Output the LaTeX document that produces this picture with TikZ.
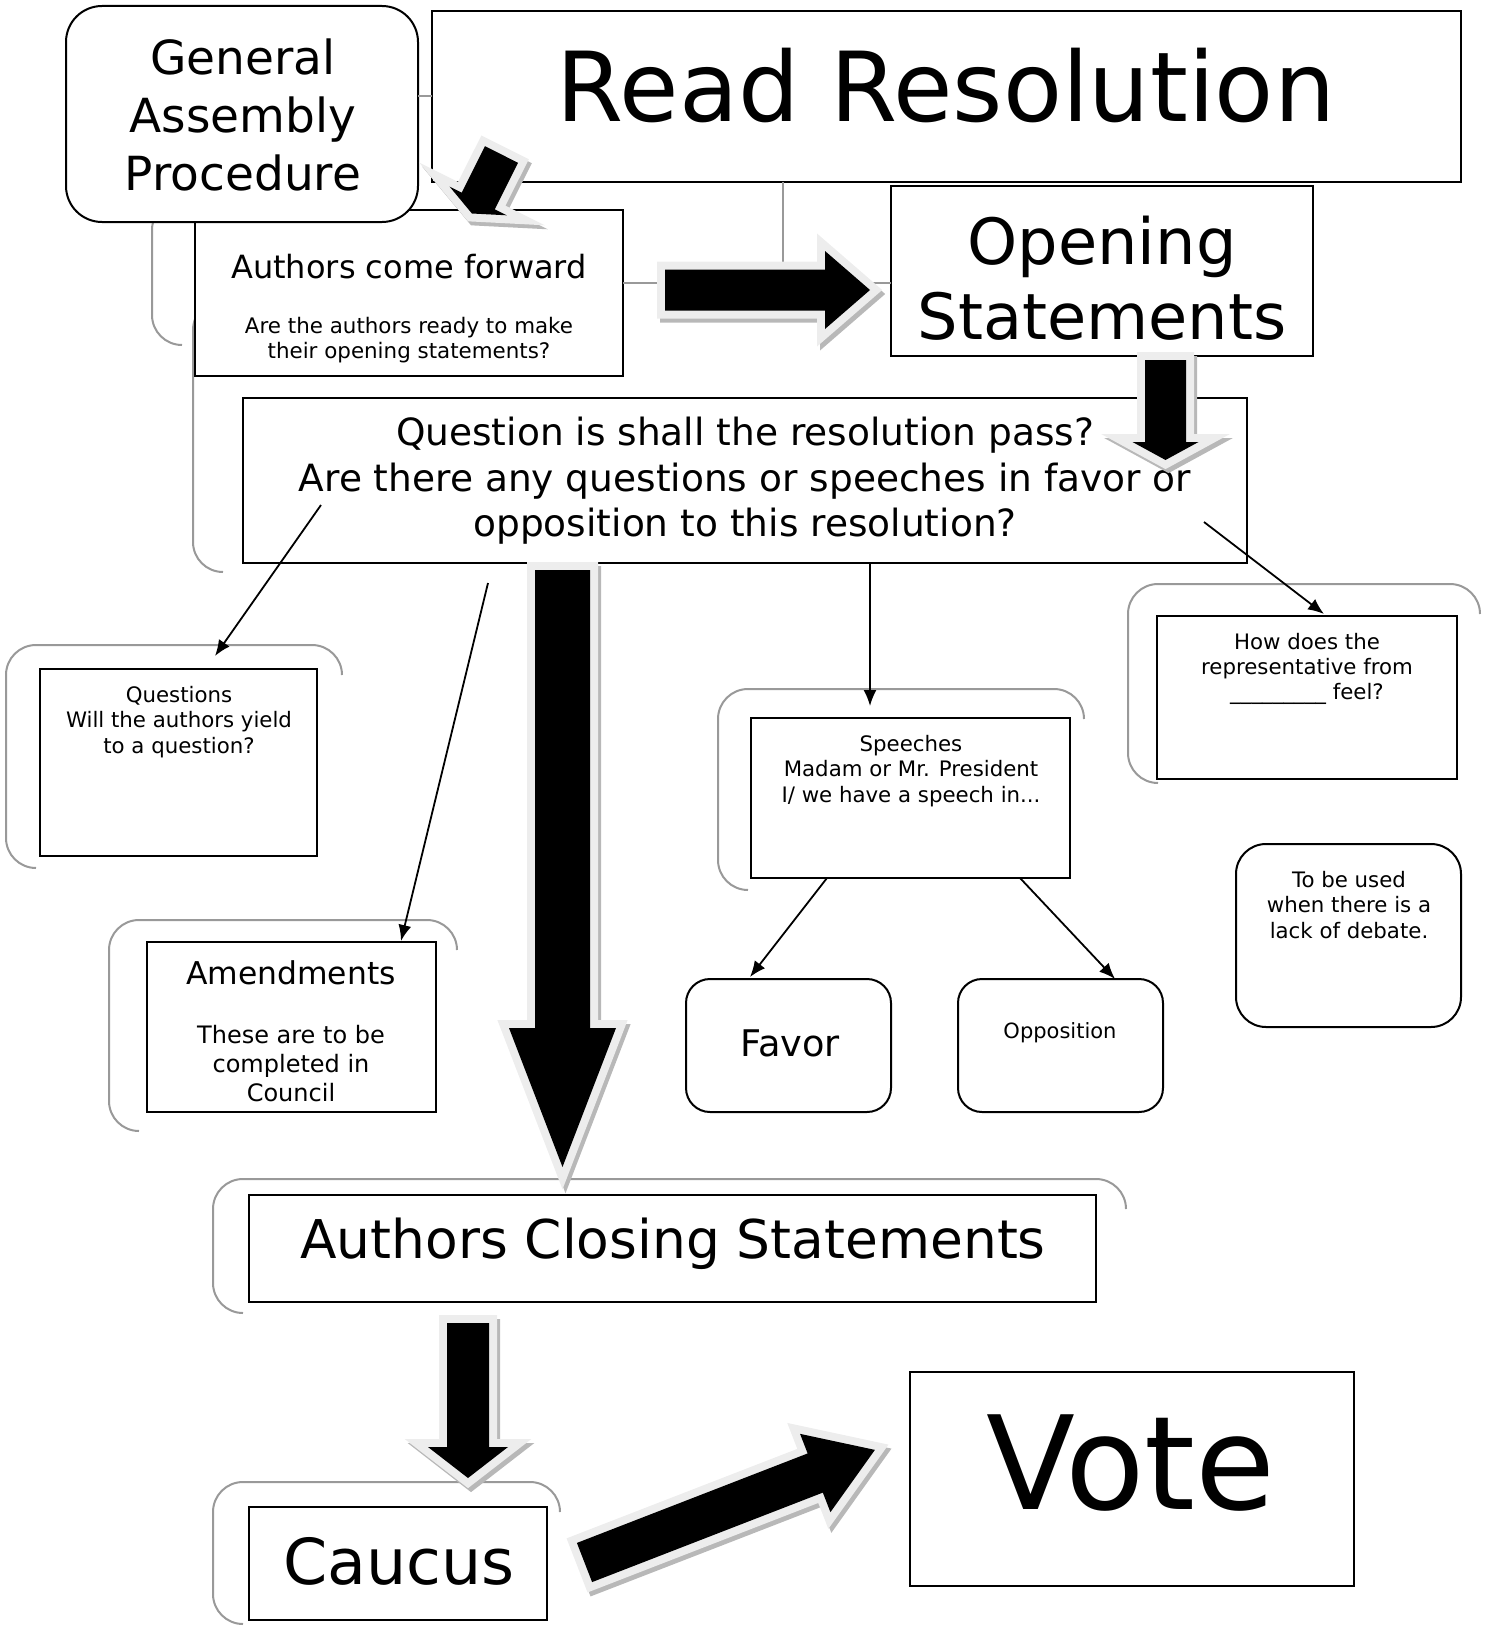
\documentclass[tikz,border=0pt]{standalone}
\usepackage{fontspec}
\setmainfont{DejaVu Sans}
\usetikzlibrary{arrows.meta}

\newcommand\fsz[2]{\fontsize{#1}{#2}\selectfont}
% #1 start, #2 angle, #3 length, #4 shaft half width, #5 head half width, #6 head length
\newcommand\blockarrow[6]{%
  \begin{scope}[shift={#1}, xshift=1.5pt, yshift=-2pt, rotate=#2]
    \filldraw[arrowshadow] (0,-#4) -- (#3-#6,-#4) -- (#3-#6,-#5) -- (#3,0)
      -- (#3-#6,#5) -- (#3-#6,#4) -- (0,#4) -- cycle;
  \end{scope}
  \begin{scope}[shift={#1}, rotate=#2]
    \filldraw[arrowrim] (0,-#4) -- (#3-#6,-#4) -- (#3-#6,-#5) -- (#3,0)
      -- (#3-#6,#5) -- (#3-#6,#4) -- (0,#4) -- cycle;
    \fill[black] (0,-#4) -- (#3-#6,-#4) -- (#3-#6,-#5) -- (#3,0)
      -- (#3-#6,#5) -- (#3-#6,#4) -- (0,#4) -- cycle;
  \end{scope}}

\begin{document}
\begin{tikzpicture}[x=0.5pt,y=-0.5pt,
  box/.style={draw=black, line width=1pt, fill=white, inner sep=0pt, outer sep=0pt},
  rbox/.style={box, rounded corners=15pt},
  txt/.style={inner sep=0pt, align=center},
  link/.style={-{Latex[length=8pt,width=6.5pt]}, line width=0.9pt},
  conn/.style={draw=black!40, line width=1pt},
  frame/.style={draw=black!40, line width=1pt, rounded corners=15pt},
  arrowrim/.style={fill=black!7, draw=black!7, line width=8pt, line join=miter},
  arrowshadow/.style={fill=black!28, draw=black!28, line width=8pt, line join=miter}]
  \useasboundingbox (0,0) rectangle (1485,1627);

  % grey frames behind the boxes
  \draw[frame] (182,200) -- (152,200) -- (152,345) -- (182,345);
  \draw[frame] (223,300) -- (193,300) -- (193,572) -- (223,572);
  \draw[frame] (36,868) -- (6,868) -- (6,645) -- (342,645) -- (342,675);
  \draw[frame] (139,1131) -- (109,1131) -- (109,920) -- (457,920) -- (457,950);
  \draw[frame] (748,890) -- (718,890) -- (718,689) -- (1084,689) -- (1084,719);
  \draw[frame] (1158,783) -- (1128,783) -- (1128,584) -- (1480,584) -- (1480,614);
  \draw[frame] (243,1313) -- (213,1313) -- (213,1179) -- (1126,1179) -- (1126,1209);
  \draw[frame] (243,1624) -- (213,1624) -- (213,1482) -- (560,1482) -- (560,1512);

  % boxes
  \node[box, minimum width=214pt, minimum height=83pt] (authf) at (409,293) {};
  \node[rbox, rounded corners=18pt, minimum width=176pt, minimum height=108pt] (ga) at (242,114) {};
  \node[box, minimum width=514.5pt, minimum height=85.5pt] (read) at (946.5,96.5) {};
  \node[box, minimum width=211pt, minimum height=85pt] (open) at (1102,271) {};
  \node[box, minimum width=502pt, minimum height=82.5pt] (quest) at (745,480.5) {};
  \node[box, minimum width=138.5pt, minimum height=93.5pt] (qs) at (178.5,762.5) {};
  \node[box, minimum width=144.5pt, minimum height=85pt] (amend) at (291.5,1027) {};
  \node[box, minimum width=159.5pt, minimum height=80pt] (speech) at (910.5,798) {};
  \node[box, minimum width=150pt, minimum height=81.5pt] (feel) at (1307,697.5) {};
  \node[rbox, minimum width=112.5pt, minimum height=91.5pt] (debate) at (1348.5,935.5) {};
  \node[rbox, rounded corners=12pt, minimum width=102.5pt, minimum height=66.5pt] (favor) at (788.5,1045.5) {};
  \node[rbox, rounded corners=12pt, minimum width=102.5pt, minimum height=66.5pt] (oppo) at (1060.5,1045.5) {};
  \node[box, minimum width=423.5pt, minimum height=53.5pt] (close) at (672.5,1248.5) {};
  \node[box, minimum width=149pt, minimum height=56.5pt] (caucus) at (398,1563.5) {};
  \node[box, minimum width=222pt, minimum height=107pt] (vote) at (1132,1479) {};

  % texts
  \node[txt, font=\fsz{23.5pt}{29pt}] (ga-t) at (243,115) {General\\Assembly\\Procedure};
  \node[txt, font=\fsz{48.3pt}{58pt}] (read-t) at (946,85) {Read Resolution};
  \node[txt, font=\fsz{16pt}{19pt}] (authf-t) at (409,267) {Authors come forward};
  \node[txt, font=\fsz{10.7pt}{12.5pt}] (authf-s) at (409,340)
    {Are the authors ready to make\\their opening statements?};
  \node[txt, font=\fsz{31.9pt}{37.5pt}] (open-t) at (1102,278) {Opening\\Statements};
  \node[txt, font=\fsz{18.75pt}{22.8pt}] (quest-t) at (745,481)
    {Question is shall the resolution pass?\\Are there any questions or speeches in favor or\\opposition to this resolution?};
  \node[txt, font=\fsz{10.65pt}{12.7pt}] (qs-t) at (179,722)
    {Questions\\Will the authors yield\\to a question?};
  \node[txt, font=\fsz{15.7pt}{19pt}] (amend-t) at (291,973) {Amendments};
  \node[txt, font=\fsz{12pt}{14.5pt}] (amend-s) at (291,1064)
    {These are to be\\completed in\\Council};
  \node[txt, font=\fsz{10.65pt}{12.9pt}] (speech-t) at (911,771)
    {Speeches\\Madam or Mr. President\\I/ we have a speech in...};
  \node[txt, font=\fsz{10.65pt}{12.7pt}] (feel-t) at (1307,669)
    {How does the\\representative from\\\_\_\_\_\_\_\_\_\_ feel?};
  \node[txt, font=\fsz{10.65pt}{12.7pt}] (debate-t) at (1349,905)
    {To be used\\when there is a\\lack of debate.};
  \node[txt, font=\fsz{18.35pt}{22pt}] (favor-t) at (790,1043) {Favor};
  \node[txt, font=\fsz{10.5pt}{12.6pt}] (oppo-t) at (1060,1033) {Opposition};
  \node[txt, font=\fsz{26.7pt}{32pt}] (close-t) at (673,1244) {Authors Closing Statements};
  \node[txt, font=\fsz{31.7pt}{38pt}] (caucus-t) at (399,1561) {Caucus};
  \node[txt, font=\fsz{65pt}{78pt}] (vote-t) at (1131,1463) {Vote};

  % grey links
  \draw[conn] (ga.east |- read.west) -- (read.west);
  \coordinate (hub) at (783,283);
  \draw[conn] (hub |- read.south) -- (hub);
  \draw[conn] (authf.east |- hub) -- (open.west |- hub);

  % thin arrows
  \coordinate (q-a) at (321,505);
  \coordinate (qs-in) at (215,656);
  \draw[link] (q-a) -- (qs-in);
  \coordinate (q-b) at (488,583);
  \coordinate (amend-in) at (401,941);
  \draw[link] (q-b) -- (amend-in);
  \coordinate (speech-in) at (870,706);
  \draw[link] (quest.south -| speech-in) -- (speech-in);
  \coordinate (q-d) at (1204,522);
  \coordinate (feel-in) at (1324,614);
  \draw[link] (q-d) -- (feel-in);
  \coordinate (sp-a) at (827,878);
  \coordinate (favor-in) at (750,977);
  \draw[link] (sp-a) -- (favor-in);
  \coordinate (sp-b) at (1020,878);
  \coordinate (oppo-in) at (1115,979);
  \draw[link] (sp-b) -- (oppo-in);

  % block arrows
  \blockarrow{(501.5,154.5)}{-116.6}{66}{18.5}{32}{14}
  \blockarrow{(665,290)}{0}{205}{20.5}{39}{45}
  \blockarrow{(1165.5,360)}{-90}{100}{20.5}{33}{18}
  \blockarrow{(562.5,570)}{-90}{597}{27.5}{53.5}{139}
  \blockarrow{(468,1323)}{-90}{155}{21}{40}{31}
  \blockarrow{(584.5,1562.5)}{21.2}{311.5}{21}{42}{64}
\end{tikzpicture}
\end{document}
